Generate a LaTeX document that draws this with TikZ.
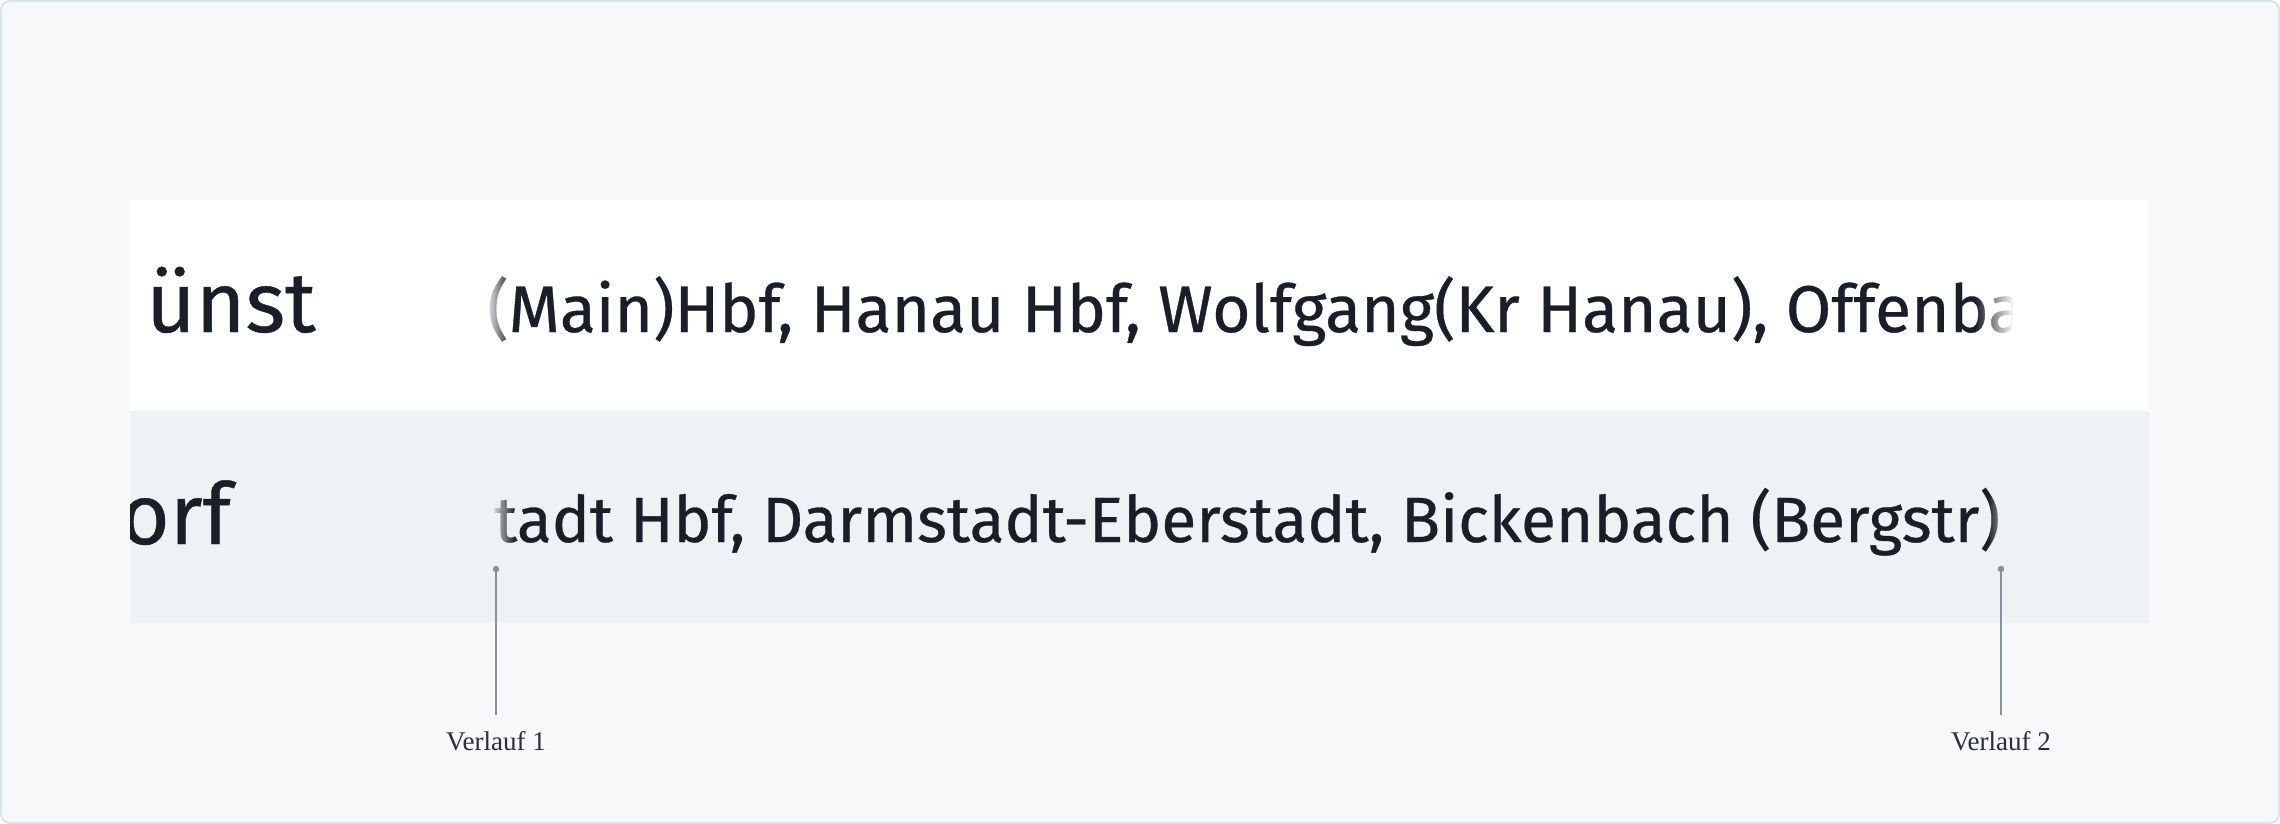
\documentclass[tikz,border=0pt]{standalone}
\usepackage{fontspec}
\setmainfont{Fira Sans}[FakeBold=0.5]
\newfontfamily\lblfont{Liberation Serif}
\usetikzlibrary{fadings}
\definecolor{pagebg}{HTML}{F7F8FA}
\definecolor{frameline}{HTML}{DDE3EA}
\definecolor{rowone}{HTML}{FFFFFF}
\definecolor{rowtwo}{HTML}{EEF2F5}
\definecolor{ink}{HTML}{1A1E28}
\definecolor{ptrgray}{HTML}{8A9099}
\definecolor{lblink}{HTML}{2A2F38}
\tikzfading[name=fadetoright, left color=transparent!0, right color=transparent!100]
\tikzfading[name=fadetoleft, left color=transparent!100, right color=transparent!0]
\tikzset{
  bigtxt/.style={anchor=base west, inner sep=0pt, text=ink, font=\fontsize{85}{92}\selectfont},
  rowtxt/.style={anchor=base west, inner sep=0pt, text=ink, font=\fontsize{66}{72}\selectfont},
  rowtxtb/.style={anchor=base west, inner sep=0pt, text=ink, font=\fontsize{64}{72}\selectfont},
  lbl/.style={anchor=north, inner xsep=0pt, inner ysep=0pt, text=lblink, font=\lblfont\fontsize{27}{30}\selectfont},
  ptrline/.style={draw=ptrgray, line width=1.6pt},
  ptrdot/.style={fill=ptrgray}
}
\begin{document}
\begin{tikzpicture}[x=1pt,y=-1pt]
\useasboundingbox (0,0) rectangle (2280,824);
% page
\fill[pagebg, draw=frameline, line width=2pt, rounded corners=9pt] (1,1) rectangle (2279,823);
% table rows
\fill[rowone] (130,200) rectangle (2149,411);
\fill[rowtwo] (130,411) rectangle (2149,623);
% first column texts (clipped at table edge)
\begin{scope}
\clip (130,200) rectangle (2149,623);
\node[bigtxt] (c1) at (146,332) {ünst};
\node[bigtxt] (c2) at (120,544) {orf};
\end{scope}
% second column texts
\begin{scope}
\clip (487,200) rectangle (2013,623);
\node[rowtxt] (r1) at (487,332) {(Main)Hbf, Hanau Hbf, Wolfgang(Kr Hanau), Offenba};
\node[rowtxtb] (r2) at (494,542) {tadt Hbf, Darmstadt-Eberstadt, Bickenbach (Bergstr)};
\end{scope}
% fades at text ends
\fill[rowone, path fading=fadetoright] (484,230) rectangle (512,370);
\fill[rowone, path fading=fadetoleft] (1975,230) rectangle (2014,370);
\fill[rowtwo, path fading=fadetoright] (490,450) rectangle (515,585);
\fill[rowtwo, path fading=fadetoleft] (1988,450) rectangle (2012,585);
% pointers
\coordinate (p1) at (496,569);
\coordinate (p2) at (2001,569);
\node[lbl] (l1) at (496,731) {Verlauf 1};
\node[lbl] (l2) at (2001,731) {Verlauf 2};
\coordinate (e1) at (496,715);
\coordinate (e2) at (2001,715);
\draw[ptrline] (p1) -- (e1);
\draw[ptrline] (p2) -- (e2);
\fill[ptrdot] (p1) circle (3.2);
\fill[ptrdot] (p2) circle (3.2);
\end{tikzpicture}
\end{document}
